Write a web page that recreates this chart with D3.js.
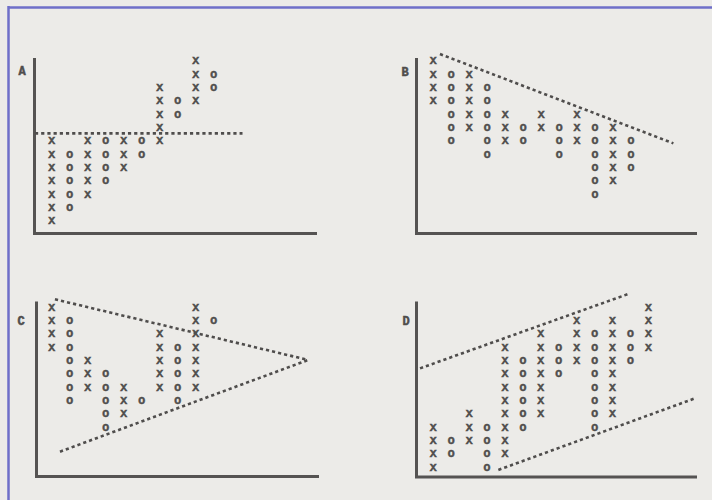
<!DOCTYPE html>
<html>
<head>
<meta charset="utf-8">
<script src="https://cdn.jsdelivr.net/npm/d3@7"></script>
<style>
  html, body { margin: 0; padding: 0; background: #ecebe8; }
  svg { display: block; }
</style>
</head>
<body>
<svg id="chart" width="712" height="500"></svg>
<script>
// point & figure columns: [type, lowest box, highest box]
const colsA = [["X",0,6],["O",1,5],["X",2,6],["O",3,6],["X",4,6],["O",5,6],["X",6,10],["O",8,9],["X",9,12],["O",10,11]];
const colsB = [["X",9,12],["O",6,11],["X",7,11],["O",5,10],["X",6,8],["O",6,7],["X",7,8],["O",5,7],["X",6,8],["O",2,7],["X",3,7],["O",4,6]];
const colsC = [["X",9,12],["O",5,11],["X",6,8],["O",3,7],["X",4,6],["O",5,5],["X",6,10],["O",5,9],["X",6,12],["O",11,11]];
const colsD = [["X",0,3],["O",1,2],["X",2,4],["O",0,3],["X",1,9],["O",3,8],["X",4,10],["O",7,9],["X",8,11],["O",3,10],["X",4,11],["O",8,10],["X",9,12]];

// trend lines as [column, box] end points
const trendA = [[[-0.93,6.55],[10.6,6.55]]];
const trendB = [[[0.37,12.5],[13.36,5.8]]];
const trendC = [[[0.18,12.6],[14.25,8.05]], [[0.46,1.17],[14.25,8.05]]];
const trendD = [[[-0.74,7.42],[10.88,13.0]], [[3.63,-0.2],[14.6,5.17]]];

const labels = ["A","B","C","D"];

const svg = d3.select("#chart");
const ink = "#4f4d4c";

// page frame
svg.append("line").attr("x1", 8).attr("x2", 712).attr("y1", 7.5).attr("y2", 7.5)
    .attr("stroke", "#6f6fc9").attr("stroke-width", 2.5);
svg.append("line").attr("x1", 8.5).attr("x2", 8.5).attr("y1", 6).attr("y2", 500)
    .attr("stroke", "#6f6fc9").attr("stroke-width", 2.5);

let layout = [
    { cols: colsA, trends: trendA, x0: 51.7, step: 18.0, top: 60.7, ax: 34.5, ayTop: 58, ayBot: 233.5, axEnd: 317, lx: 22, ly: 72 },
    { cols: colsB, trends: trendB, x0: 433.3, step: 17.97, top: 60.7, ax: 416.5, ayTop: 58, ayBot: 233.5, axEnd: 697, lx: 405, ly: 73 },
    { cols: colsC, trends: trendC, x0: 51.7, step: 18.0, top: 307.3, ax: 36.5, ayTop: 301.5, ayBot: 476.5, axEnd: 319, lx: 21, ly: 322 },
    { cols: colsD, trends: trendD, x0: 433.3, step: 17.92, top: 307.3, ax: 416.5, ayTop: 301.5, ayBot: 477, axEnd: 697, lx: 406, ly: 322 }
];

layout.forEach((p, i) => {
    let g = svg.append("g");
    let xS = d3.scaleLinear().domain([0, 1]).range([p.x0, p.x0 + p.step]);
    let yS = d3.scaleLinear().domain([0, 12]).range([p.top + 12 * 13.33, p.top]);

    // axes
    g.append("path")
        .attr("d", `M${p.ax},${p.ayTop}V${p.ayBot}H${p.axEnd}`)
        .attr("fill", "none").attr("stroke", "#555352").attr("stroke-width", 3);

    g.append("text").attr("x", p.lx).attr("y", p.ly)
        .attr("text-anchor", "middle").attr("dominant-baseline", "central")
        .style("font", "bold 12px 'Liberation Mono', monospace")
        .attr("stroke", ink).attr("stroke-width", 0.5)
        .attr("fill", ink).text(labels[i]);

    // trend lines
    p.trends.forEach(t => {
        g.append("line")
            .attr("x1", xS(t[0][0])).attr("y1", yS(t[0][1]))
            .attr("x2", xS(t[1][0])).attr("y2", yS(t[1][1]))
            .attr("stroke", ink).attr("stroke-width", 2.6)
            .attr("stroke-dasharray", "3.2,3");
    });

    // boxes
    let boxes = [];
    p.cols.forEach((c, ci) => {
        d3.range(c[1], c[2] + 1).forEach(b => boxes.push({ t: c[0], col: ci, box: b }));
    });
    g.selectAll("text.box").data(boxes).enter().append("text")
        .attr("class", "box")
        .attr("x", d => xS(d.col)).attr("y", d => yS(d.box))
        .attr("text-anchor", "middle").attr("dominant-baseline", "central")
        .style("font", "bold 11.5px 'Liberation Mono', monospace")
        .attr("stroke", ink).attr("stroke-width", 0.45)
        .attr("fill", ink).text(d => d.t);
});
</script>
</body>
</html>
